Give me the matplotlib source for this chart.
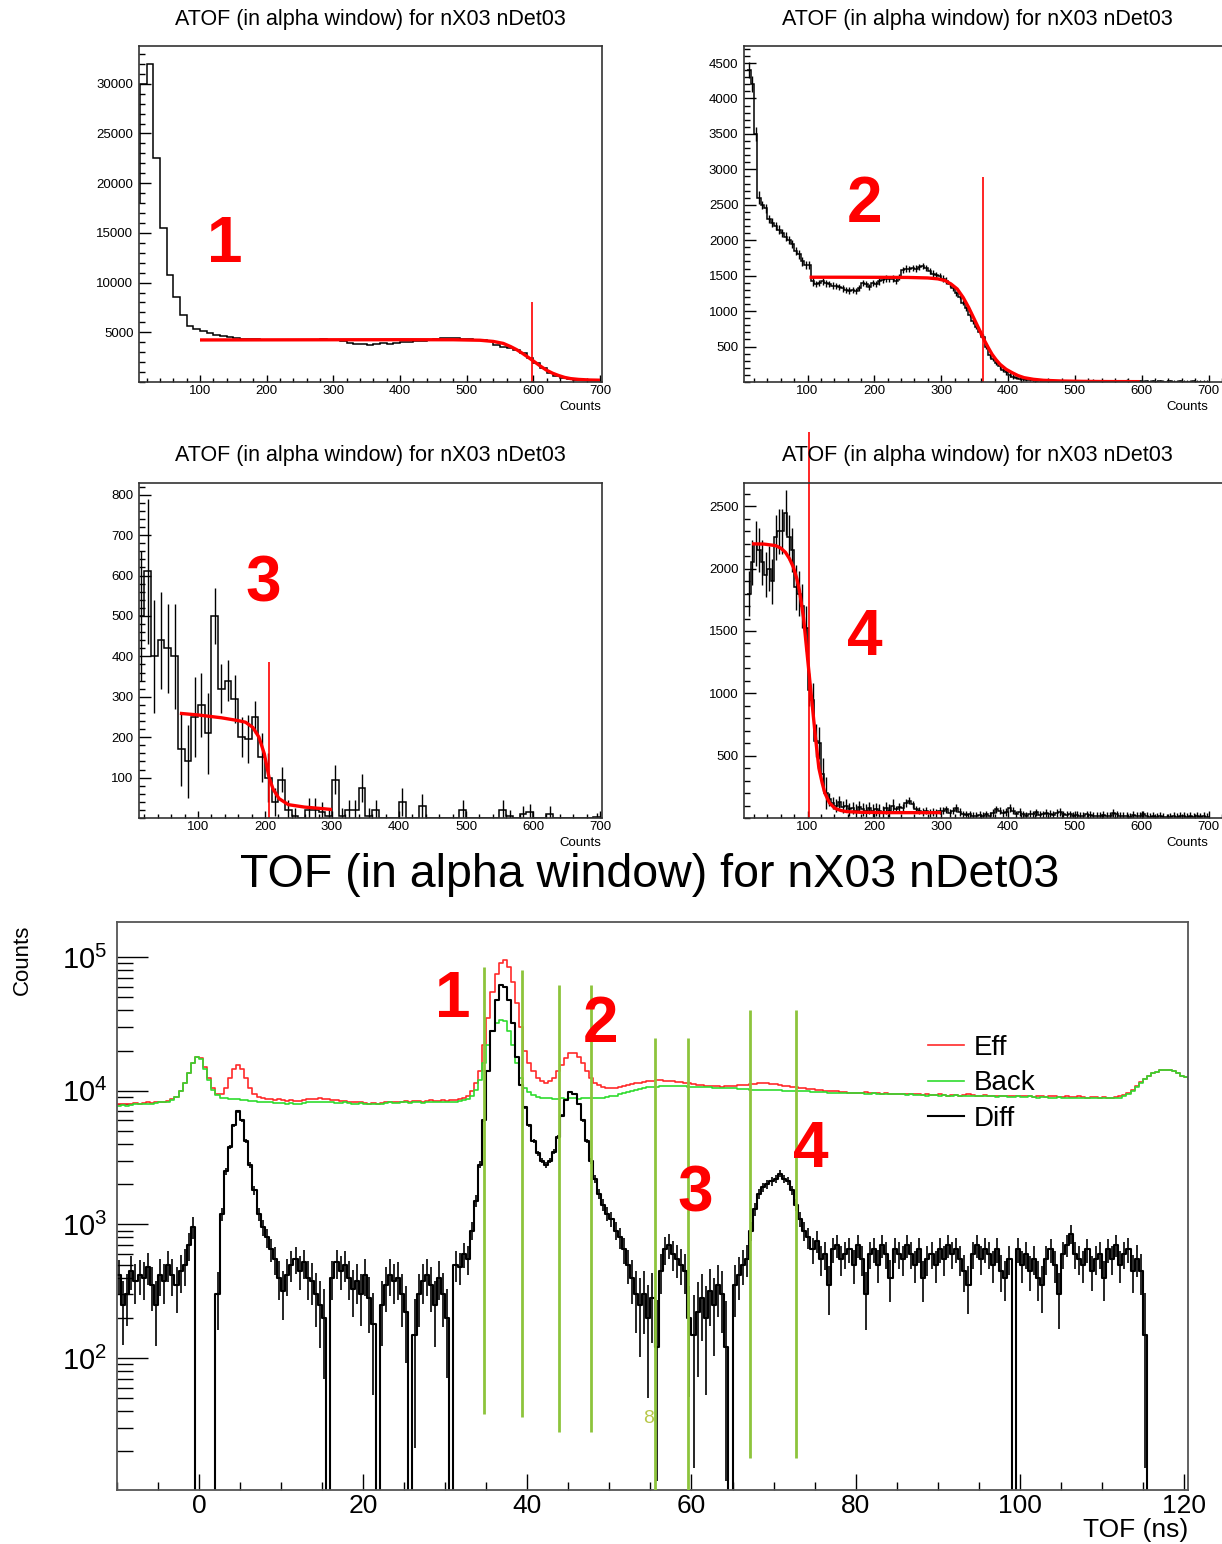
import numpy as np
import matplotlib.pyplot as plt
from matplotlib.ticker import MultipleLocator, FixedLocator, LogLocator, NullFormatter

plt.rcParams['font.family'] = ['Liberation Sans', 'DejaVu Sans']
plt.rcParams['mathtext.fontset'] = 'custom'
plt.rcParams['mathtext.rm'] = 'Liberation Sans'
plt.rcParams['mathtext.it'] = 'Liberation Sans:italic'
plt.rcParams['mathtext.bf'] = 'Liberation Sans:bold'

W, H = 1222, 1544
ATOF_TITLE = 'ATOF (in alpha window) for nX03 nDet03'
TOF_TITLE = 'TOF (in alpha window) for nX03 nDet03'

######################## ATOF histograms (4 TOF windows) ########################

# window 1 : 10-unit bins from 0
atof1_start, atof1_width = 0, 10
atof1 = [18000, 30000, 32000, 22500, 15500, 10800, 8600, 6700, 5600, 5300,
         5100, 4900, 4750, 4600, 4500, 4450, 4350, 4300, 4350, 4250,
         4250, 4230, 4250, 4270, 4250, 4230, 4250, 4270, 4300, 4250,
         4200, 4100, 3900, 3850, 3800, 3750, 3850, 3900, 3850, 3950,
         4050, 4050, 4100, 4150, 4250, 4350, 4400, 4450, 4400, 4350,
         4300, 4250, 4200, 4100, 3700, 3550, 3450, 3250, 2900, 2450,
         1950, 1400, 950, 600, 400, 300, 250, 220, 200, 190]
fit1_x = [100, 200, 300, 400, 480, 520, 540, 555, 566, 575, 584, 593, 602, 611,
          620, 629, 638, 647, 656, 668, 685, 700]
fit1_y = [4230, 4240, 4250, 4255, 4250, 4200, 4080, 3880, 3560, 3250, 2870, 2450,
          2020, 1580, 1180, 880, 650, 460, 340, 260, 200, 180]
cut1, cut1_top = 598, 8000

# window 2 : 5-unit bins from 10
atof2_start, atof2_width = 10, 5
atof2 = [4400, 4200, 3500, 2600, 2500, 2450, 2300, 2250, 2200, 2150,
         2100, 2050, 2000, 1950, 1850, 1800, 1700, 1650, 1650, 1420,
         1380, 1400, 1420, 1390, 1380, 1360, 1350, 1340, 1320, 1300,
         1290, 1300, 1280, 1330, 1400, 1380, 1340, 1400, 1380, 1420,
         1440, 1460, 1450, 1460, 1430, 1480, 1580, 1600, 1590, 1610,
         1600, 1620, 1640, 1610, 1570, 1530, 1510, 1490, 1460, 1430,
         1380, 1320, 1250, 1200, 1120, 1040, 950, 860, 780, 700,
         640, 500, 380, 330, 270, 220, 170, 140, 100, 75,
         60, 45, 40, 35, 30, 25, 20, 25, 20, 15,
         20, 15, 10, 15, 10, 15, 10, 12, 10, 8,
         10, 12, 10, 20, 15, 10, 8, 10, 8, 12,
         10, 8, 15, 20, 10, 8, 15, 10, 5, 8,
         5, 10, 5, 8, 5, 5, 10, 5, 5, 8,
         5, 5, 5, 8, 5, 5, 5, 5]
atof2_err = [110, 110, 100, 90] + [60] * 16 + [45] * 40 + [35] * 20 + [20] * 58
fit2_x = [103, 150, 200, 250, 280, 295, 306, 315, 324, 333, 341, 347, 353, 359,
          365, 371, 376, 382, 388, 397, 406, 415, 424, 438, 453, 480, 512, 550, 597]
fit2_y = [1478, 1478, 1477, 1475, 1468, 1455, 1430, 1380, 1312, 1190, 1053, 935,
          817, 700, 580, 475, 392, 315, 250, 180, 132, 90, 61, 38, 24, 14, 9, 6, 5]
cut2, cut2_top = 363, 2890

# window 3 : 10-unit bins from 10
atof3_start, atof3_width = 10, 10
atof3 = [500, 610, 400, 440, 420, 400, 170, 140, 250, 280,
         210, 500, 320, 340, 295, 200, 195, 250, 150, 100,
         40, 95, 20, 5, 0, 20, 20, 15, 5, 95,
         5, 20, 20, 75, 5, 20, 0, 0, 0, 40,
         0, 0, 30, 0, 0, 0, 0, 0, 20, 0,
         0, 0, 0, 0, 20, 5, 0, 10, 15, 0,
         0, 10, 0, 0, 0, 0, 0, 0, 3]
atof3_err = [160, 180, 140, 120, 110, 130, 90, 90, 100, 80,
             100, 70, 60, 50, 60, 50, 60, 40, 60, 60,
             35, 30, 25, 20, 0, 30, 30, 25, 20, 35,
             20, 25, 25, 35, 20, 25, 0, 0, 0, 35,
             0, 0, 30, 0, 0, 0, 0, 0, 25, 0,
             0, 0, 0, 0, 25, 15, 0, 20, 20, 0,
             0, 20, 0, 0, 0, 0, 0, 0, 10]
fit3_x = [73, 100, 135, 160, 171, 182, 191, 199, 206, 212, 221, 235, 259, 280, 300]
fit3_y = [259, 255, 248, 241, 237, 224, 200, 159, 101, 72, 48, 33, 27, 24, 21]
cut3, cut3_top = 206, 385

# window 4 : 5-unit bins from 10
atof4_start, atof4_width = 10, 5
atof4 = [1800, 2050, 2200, 2150, 2050, 1950, 2000, 1900, 2250, 2300,
         2300, 2450, 2250, 2150, 1850, 1800, 1700, 1520, 1030, 950,
         620, 600, 350, 200, 150, 120, 100, 130, 90, 100,
         70, 80, 60, 90, 70, 60, 80, 60, 70, 60,
         50, 80, 60, 100, 70, 90, 80, 120, 140, 110,
         70, 60, 50, 60, 40, 50, 40, 60, 60, 70,
         40, 60, 80, 50, 30, 25, 30, 20, 15, 25,
         20, 30, 20, 40, 70, 60, 40, 50, 80, 60,
         30, 50, 30, 20, 35, 30, 45, 25, 30, 40,
         35, 25, 40, 50, 30, 25, 30, 20, 25, 15,
         20, 30, 25, 20, 15, 20, 25, 15, 20, 40,
         30, 20, 15, 20, 10, 25, 15, 20, 30, 15,
         10, 15, 10, 15, 10, 5, 10, 15, 10, 20,
         15, 10, 15, 10, 20, 10, 15, 10]
atof4_err = [180] * 18 + [130] * 6 + [50] * 20 + [30] * 94
fit4_x = [17, 35, 52, 60, 67, 73, 79, 84, 88, 94, 100, 106, 112, 117, 122, 126,
          133, 141, 150, 159, 180, 218, 260, 300]
fit4_y = [2199, 2197, 2185, 2165, 2131, 2080, 2010, 1920, 1823, 1608, 1286, 964,
          642, 400, 280, 199, 120, 78, 60, 51, 46, 43, 43, 43]
cut4, cut4_top = 102, 3100

######################## TOF spectra, 0.5 ns bins from -10 ns ########################

tof_start, tof_width = -10.0, 0.5
# Eff and Back in thousands of counts
eff_k = [7.9, 8.0, 7.9, 8.0, 8.1, 8.0, 8.1, 8.2, 8.1, 8.2, 8.3, 8.2, 8.4, 8.6, 9.0, 10.0, 11.5, 13.5, 16.0, 18.0,
         17.5, 15.0, 12.5, 10.5, 9.5, 9.5, 10.5, 12.5, 14.5, 15.5, 14.5, 12.5, 10.5, 9.5, 9.0, 8.8, 8.7, 8.6, 8.5, 8.6,
         8.5, 8.4, 8.5, 8.4, 8.4, 8.5, 8.6, 8.7, 8.7, 8.8, 8.7, 8.6, 8.5, 8.5, 8.4, 8.4, 8.3, 8.3, 8.2, 8.2,
         8.1, 8.0, 8.1, 8.0, 8.1, 8.2, 8.3, 8.3, 8.2, 8.3, 8.4, 8.3, 8.4, 8.4, 8.3, 8.4, 8.5, 8.4, 8.4, 8.5,
         8.4, 8.5, 8.5, 8.6, 8.8, 9.2, 10.0, 11.5, 14.0, 22.0, 35.0, 55.0, 75.0, 90.0, 95.0, 85.0, 65.0, 45.0, 30.0, 20.0,
         16.0, 14.0, 12.5, 11.8, 11.5, 11.8, 12.5, 14.0, 15.5, 17.5, 19.0, 19.0, 18.0, 16.0, 14.0, 12.5, 11.5, 11.0, 10.6, 10.4,
         10.4, 10.5, 10.6, 10.8, 11.0, 11.2, 11.4, 11.5, 11.6, 11.8, 11.9, 12.0, 12.0, 11.9, 11.8, 11.8, 11.7, 11.6, 11.5, 11.4,
         11.2, 11.1, 11.0, 10.9, 10.8, 10.9, 10.8, 10.7, 10.8, 10.9, 10.9, 11.0, 11.0, 11.1, 11.2, 11.3, 11.4, 11.5, 11.4, 11.3,
         11.2, 11.0, 10.9, 10.8, 10.7, 10.6, 10.5, 10.4, 10.3, 10.3, 10.2, 10.1, 10.0, 10.0, 9.9, 9.9, 9.8, 9.8, 9.7, 9.7,
         9.6, 9.7, 9.8, 9.7, 9.6, 9.6, 9.5, 9.6, 9.5, 9.5, 9.4, 9.5, 9.4, 9.4, 9.5, 9.4, 9.3, 9.4, 9.3, 9.3,
         9.4, 9.3, 9.2, 9.3, 9.3, 9.2, 9.3, 9.4, 9.3, 9.2, 9.2, 9.3, 9.2, 9.1, 9.2, 9.2, 9.1, 9.2, 9.2, 9.1,
         9.1, 9.2, 9.1, 9.0, 9.1, 9.1, 9.0, 9.1, 9.1, 9.0, 9.0, 9.1, 9.0, 9.0, 9.1, 9.0, 8.9, 9.0, 9.0, 8.9,
         9.0, 8.9, 8.9, 9.0, 9.1, 9.3, 9.6, 10.1, 10.8, 11.6, 12.3, 13.0, 13.5, 13.9, 14.2, 14.4, 14.3, 14.0, 13.5, 13.0,
         12.6, 12.3]
back_k = [7.7, 7.8, 7.7, 7.8, 7.9, 7.9, 8.0, 8.0, 8.0, 8.1, 8.2, 8.2, 8.3, 8.5, 9.0, 10.0, 11.5, 13.5, 16.0, 17.8,
          17.2, 14.5, 12.0, 10.2, 9.3, 8.9, 8.8, 8.7, 8.6, 8.6, 8.5, 8.5, 8.4, 8.4, 8.3, 8.3, 8.2, 8.2, 8.1, 8.1,
          8.1, 8.0, 8.1, 8.0, 8.0, 8.1, 8.2, 8.2, 8.3, 8.2, 8.3, 8.2, 8.2, 8.1, 8.1, 8.2, 8.1, 8.0, 8.0, 8.1,
          8.0, 7.9, 8.0, 7.9, 8.0, 8.1, 8.2, 8.1, 8.1, 8.2, 8.2, 8.1, 8.2, 8.2, 8.1, 8.2, 8.3, 8.2, 8.2, 8.3,
          8.2, 8.3, 8.3, 8.4, 8.5, 8.7, 9.2, 10.2, 12.0, 16.0, 22.0, 28.0, 32.0, 34.0, 33.0, 28.0, 22.0, 16.0, 12.5, 10.5,
          9.8, 9.3, 9.0, 8.9, 8.8, 8.8, 8.7, 8.7, 8.8, 8.7, 8.8, 8.8, 8.7, 8.8, 8.8, 8.8, 8.8, 8.9, 8.9, 9.0,
          9.1, 9.2, 9.4, 9.6, 9.8, 10.0, 10.2, 10.3, 10.5, 10.6, 10.7, 10.7, 10.8, 10.8, 10.8, 10.9, 10.8, 10.8, 10.8, 10.7,
          10.7, 10.7, 10.6, 10.6, 10.6, 10.5, 10.5, 10.5, 10.4, 10.4, 10.4, 10.3, 10.3, 10.3, 10.2, 10.2, 10.2, 10.2, 10.1, 10.1,
          10.1, 10.1, 10.0, 10.0, 10.0, 9.9, 9.9, 9.9, 9.9, 9.8, 9.8, 9.8, 9.8, 9.7, 9.7, 9.7, 9.6, 9.6, 9.7, 9.6,
          9.6, 9.6, 9.5, 9.5, 9.6, 9.5, 9.5, 9.4, 9.5, 9.4, 9.4, 9.4, 9.3, 9.4, 9.3, 9.3, 9.3, 9.2, 9.3, 9.3,
          9.2, 9.3, 9.2, 9.2, 9.3, 9.2, 9.1, 9.2, 9.2, 9.1, 9.1, 9.2, 9.1, 9.1, 9.0, 9.1, 9.1, 9.0, 9.0, 9.1,
          9.0, 9.0, 9.1, 9.0, 8.9, 9.0, 9.0, 8.9, 8.9, 9.0, 8.9, 8.9, 8.8, 8.9, 8.9, 8.8, 8.9, 8.8, 8.8, 8.9,
          8.8, 8.8, 8.9, 8.8, 8.9, 9.1, 9.4, 9.9, 10.6, 11.4, 12.2, 12.9, 13.5, 13.9, 14.2, 14.4, 14.3, 14.0, 13.5, 13.0,
          12.6, 12.3]
# Diff = Eff - Back (0 where the subtraction is not positive)
diff = [420, 250, 300, 450, 380, 420, 400, 480, 350, 250, 420, 380, 500, 420, 350, 450, 500, 700, 950, 0,
        0, 0, 0, 0, 300, 1200, 2500, 3800, 5500, 7000, 6000, 4200, 2800, 1800, 1200, 950, 800, 650, 550, 400,
        320, 420, 500, 550, 450, 520, 400, 380, 300, 250, 200, 0, 400, 520, 450, 500, 400, 330, 380, 300,
        420, 280, 180, 0, 250, 350, 420, 380, 400, 300, 220, 0, 150, 300, 380, 420, 350, 250, 400, 300,
        200, 0, 500, 480, 600, 550, 900, 1500, 2800, 6000, 14000, 28000, 48000, 62000, 60000, 48000, 32000, 18000, 11000, 7500,
        5500, 4200, 3400, 3000, 2800, 3000, 3500, 4500, 6500, 8500, 9800, 9500, 8000, 6000, 4200, 3000, 2200, 1700, 1400, 1200,
        1100, 900, 800, 650, 500, 400, 300, 250, 300, 200, 280, 120, 450, 650, 700, 600, 550, 500, 450, 200,
        150, 220, 280, 200, 320, 250, 350, 300, 120, 0, 350, 420, 500, 550, 900, 1300, 1700, 1900, 2000, 2100,
        2200, 2400, 2200, 2100, 1800, 1400, 1100, 900, 800, 650, 750, 550, 600, 350, 650, 700, 550, 600, 650, 500,
        700, 550, 300, 600, 650, 500, 700, 600, 400, 650, 600, 550, 700, 600, 500, 650, 400, 550, 600, 500,
        650, 550, 700, 600, 650, 550, 450, 350, 600, 700, 550, 650, 600, 500, 650, 450, 400, 550, 0, 650,
        500, 600, 450, 550, 400, 350, 550, 650, 500, 300, 600, 700, 850, 600, 550, 500, 650, 450, 550, 600,
        400, 650, 550, 700, 500, 600, 650, 450, 550, 450, 150, 0]

# TOF gates (ns) and the height of each gate marker
gates = [34.75, 39.3, 43.8, 47.7, 55.5, 59.6, 67.1, 72.7]
gate_top = [85000, 80000, 62000, 62000, 25000, 25000, 40000, 40000]
gate_bottom = [38, 36, 28, 28, 10, 10, 18, 18]

GATE_GREEN = '#8dc43c'


def frame(left, top, right, bottom):
    return [left / W, 1 - bottom / H, (right - left) / W, (bottom - top) / H]


def atof_panel(ax, start, width, counts, err, xlim, ylim, ystep, yminor,
               fit_x, fit_y, cut, cut_top, tag, tag_xy):
    counts = np.array(counts, dtype=float)
    edges = start + width * np.arange(len(counts) + 1)
    ax.stairs(counts, edges, color='k', lw=1.1, baseline=None)
    if err is not None:
        err = np.array(err, dtype=float)
        centers = edges[:-1] + width / 2
        m = (counts > 0) & (err > 0)
        ax.errorbar(centers[m], counts[m], yerr=err[m], fmt='none', ecolor='k', elinewidth=1.0)
    ax.plot(fit_x, fit_y, color='red', lw=2.4, solid_capstyle='butt')
    ax.vlines(cut, 0, cut_top, color='red', lw=1.2, clip_on=False)
    ax.text(tag_xy[0], tag_xy[1], tag, color='red', fontsize=46, fontweight='bold',
            ha='center', va='center')
    ax.set_xlim(*xlim)
    ax.set_ylim(*ylim)
    ax.xaxis.set_major_locator(FixedLocator(range(100, 701, 100)))
    ax.xaxis.set_minor_locator(MultipleLocator(20))
    ax.yaxis.set_major_locator(FixedLocator(np.arange(ystep, ylim[1], ystep)))
    ax.yaxis.set_minor_locator(MultipleLocator(yminor))
    ax.tick_params(which='both', direction='in', top=False, right=False, labelsize=9.5, width=1.0)
    ax.tick_params(axis='y', which='major', length=8.5, pad=4)
    ax.tick_params(axis='y', which='minor', length=4.5)
    ax.tick_params(axis='x', which='major', length=5, pad=2)
    ax.tick_params(axis='x', which='minor', length=3)
    for s in ax.spines.values():
        s.set_linewidth(1.2)
        s.set_color('#333333')


fig = plt.figure(figsize=(W / 100, H / 100), dpi=100)

ax1 = fig.add_axes(frame(139, 46, 602, 382))
atof_panel(ax1, atof1_start, atof1_width, atof1, None, (8.5, 703), (0, 33800), 5000, 1000,
           fit1_x, fit1_y, cut1, cut1_top, '1', (137, 13800))

ax2 = fig.add_axes(frame(744, 46, 1232, 382))
atof_panel(ax2, atof2_start, atof2_width, atof2, atof2_err, (5, 735), (0, 4740), 500, 100,
           fit2_x, fit2_y, cut2, cut2_top, '2', (186, 2500))

ax3 = fig.add_axes(frame(139, 483, 602, 818))
atof_panel(ax3, atof3_start, atof3_width, atof3, atof3_err, (12, 703), (0, 829), 100, 20,
           fit3_x, fit3_y, cut3, cut3_top, '3', (197, 577))

ax4 = fig.add_axes(frame(744, 483, 1232, 818))
atof_panel(ax4, atof4_start, atof4_width, atof4, atof4_err, (5, 735), (0, 2687), 500, 100,
           fit4_x, fit4_y, cut4, cut4_top, '4', (186, 1444))

for cx, cy in [(370, 20), (977, 20), (370, 455), (977, 455)]:
    fig.text(cx / W, 1 - cy / H, ATOF_TITLE, fontsize=15.5, ha='center', va='center')
for rx, ry in [(601, 407), (1208, 407), (601, 843), (1208, 843)]:
    fig.text(rx / W, 1 - ry / H, 'Counts', fontsize=9.5, ha='right', va='center')

######################## TOF panel ########################

ax5 = fig.add_axes(frame(117, 922, 1188, 1490))
ax5.set_yscale('log')

eff = np.array(eff_k) * 1000
back = np.array(back_k) * 1000
diff = np.array(diff, dtype=float)
t_edges = tof_start + tof_width * np.arange(len(eff) + 1)
d_edges = tof_start + tof_width * np.arange(len(diff) + 1)

l_eff, = ax5.step(t_edges, np.append(eff, eff[-1]), where='post', color='#ff2a2a', lw=1.2)
l_back, = ax5.step(t_edges, np.append(back, back[-1]), where='post', color='#2fdc2f', lw=1.2)
l_diff, = ax5.step(d_edges, np.append(diff, diff[-1]), where='post', color='k', lw=1.5)

# statistical errors of the subtraction
n = len(diff)
d_err = np.sqrt(eff[:n] + back[:n])
d_cent = d_edges[:-1] + tof_width / 2
m = diff > 0
lower = np.minimum(d_err, 0.9 * diff)
ax5.errorbar(d_cent[m], diff[m], yerr=[lower[m], d_err[m]], fmt='none', ecolor='k', elinewidth=1.2)

ax5.vlines(gates, gate_bottom, gate_top, colors=GATE_GREEN, lw=2.0, zorder=4)
ax5.text(54.8, 35, '8', color='#b8c84a', fontsize=14, ha='center', va='center')

for tag, tx, ty in [('1', 30.9, 4.8e4), ('2', 48.9, 3.1e4), ('3', 60.4, 1660), ('4', 74.5, 3600)]:
    ax5.text(tx, ty, tag, color='red', fontsize=46, fontweight='bold', ha='center', va='center', zorder=5)

ax5.set_xlim(-10, 120.5)
ax5.set_ylim(10.3, 1.83e5)
ax5.xaxis.set_major_locator(FixedLocator(range(0, 121, 20)))
ax5.xaxis.set_minor_locator(MultipleLocator(5))
ax5.yaxis.set_major_locator(FixedLocator([1e2, 1e3, 1e4, 1e5]))
ax5.set_yticklabels([r'$10^{2}$', r'$10^{3}$', r'$10^{4}$', r'$10^{5}$'])
ax5.yaxis.set_minor_locator(LogLocator(base=10, subs=np.arange(2, 10)))
ax5.yaxis.set_minor_formatter(NullFormatter())
ax5.tick_params(which='both', direction='in', top=False, right=False, width=1.0)
ax5.tick_params(axis='y', which='major', length=22, pad=7, labelsize=21)
ax5.tick_params(axis='y', which='minor', length=11.5)
ax5.tick_params(axis='x', which='major', length=11.5, pad=3, labelsize=19)
ax5.tick_params(axis='x', which='minor', length=6)
for s in ax5.spines.values():
    s.set_linewidth(1.3)
    s.set_color('#555555')

ax5.legend([l_eff, l_back, l_diff], ['Eff', 'Back', 'Diff'], loc='upper left',
           bbox_to_anchor=(0.757, 0.801), frameon=False, fontsize=20, handlelength=1.3,
           handletextpad=0.35, labelspacing=0.34, borderpad=0, borderaxespad=0)

fig.text(650 / W, 1 - 875 / H, TOF_TITLE, fontsize=33.5, ha='center', va='center')
fig.text(22 / W, 1 - 960 / H, 'Counts', fontsize=16, rotation=90, ha='center', va='center')
fig.text(1188 / W, 1 - 1530 / H, 'TOF (ns)', fontsize=19, ha='right', va='center')

fig.savefig('out.png', dpi=100)
